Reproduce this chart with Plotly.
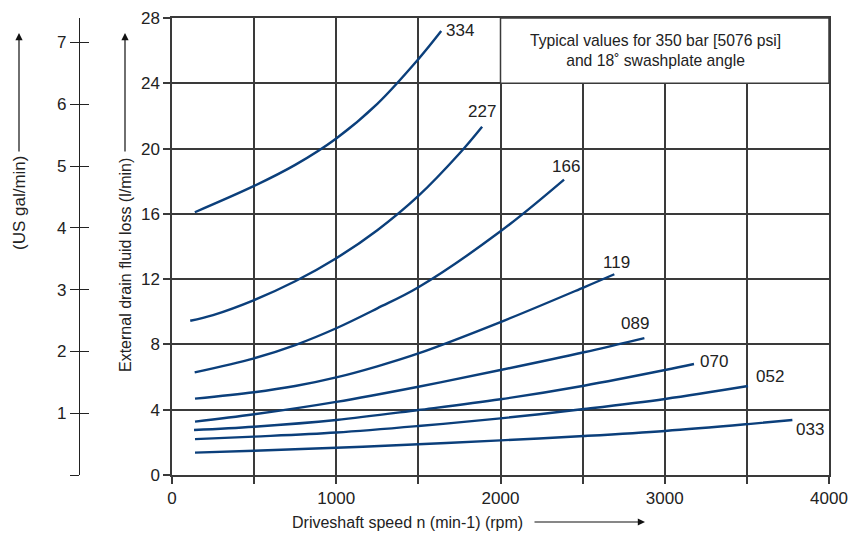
import plotly.graph_objects as go

# ---------------- data ----------------
series_names = ["334", "227", "166", "119", "089", "070", "052", "033"]

rpm_334 = [139, 500, 750, 1000, 1250, 1500, 1639]
val_334 = [16.1, 17.71, 19.0, 20.62, 22.74, 25.48, 27.2]

rpm_227 = [111, 250, 500, 750, 1000, 1250, 1500, 1750, 1888]
val_227 = [9.45, 9.8, 10.72, 11.87, 13.28, 15.0, 17.1, 19.7, 21.34]

rpm_166 = [138, 500, 750, 1000, 1250, 1500, 2000, 2387]
val_166 = [6.29, 7.15, 7.96, 8.99, 10.21, 11.5, 14.93, 18.1]

rpm_119 = [140, 500, 750, 1000, 1250, 1500, 2000, 2508, 2693]
val_119 = [4.68, 5.07, 5.45, 5.98, 6.66, 7.45, 9.37, 11.5, 12.3]

rpm_089 = [140, 500, 1000, 1500, 2000, 2508, 2876]
val_089 = [3.27, 3.72, 4.48, 5.41, 6.43, 7.52, 8.39]

rpm_070 = [134, 500, 1000, 1500, 2000, 2508, 3002, 3178]
val_070 = [2.76, 2.96, 3.37, 3.98, 4.64, 5.47, 6.43, 6.8]

rpm_052 = [140, 500, 1000, 1500, 2000, 2508, 3002, 3507]
val_052 = [2.2, 2.35, 2.6, 3.0, 3.47, 4.04, 4.66, 5.45]

rpm_033 = [140, 500, 1000, 1500, 2000, 2508, 3002, 3507, 3777]
val_033 = [1.37, 1.49, 1.67, 1.88, 2.12, 2.39, 2.7, 3.12, 3.37]

x_tickvals = [0, 500, 1000, 1500, 2000, 2500, 3000, 3500, 4000]
x_ticktext = ["0", "", "1000", "", "2000", "", "3000", "", "4000"]
y_tickvals = [0, 4, 8, 12, 16, 20, 24, 28]
gal_tickvals = [0, 1, 2, 3, 4, 5, 6, 7]
gal_ticktext = ["", "1", "2", "3", "4", "5", "6", "7"]
L_PER_GAL = 3.785411784

note_text = "Typical values for 350 bar [5076 psi]<br>and 18˚ swashplate angle"
x_title = "Driveshaft speed n (min-1) (rpm)"
y_title = "External drain fluid loss (l/min)"
gal_title = "(US gal/min)"

# label offsets (pixels) relative to curve end  (style)
label_offsets = {
    "334": (19, 1), "227": (0, 15), "166": (2, 13), "119": (2, 12),
    "089": (-9, 15), "070": (20, 3), "052": (22, 10), "033": (18, -9),
}

series = {
    "334": (rpm_334, val_334), "227": (rpm_227, val_227),
    "166": (rpm_166, val_166), "119": (rpm_119, val_119),
    "089": (rpm_089, val_089), "070": (rpm_070, val_070),
    "052": (rpm_052, val_052), "033": (rpm_033, val_033),
}

# ---------------- figure ----------------
FONT = "Liberation Sans, Arial, sans-serif"
LINE_COLOR = "#0b3f7b"
GRID = "#3a3a3a"
TXT = "#222222"
TICK_SIZE = 17
TITLE_SIZE = 16

fig = go.Figure()
annotations = []
for name in series_names:
    xs, ys = series[name]
    fig.add_trace(go.Scatter(x=xs, y=ys, mode="lines",
                             line=dict(color=LINE_COLOR, width=2.4, shape="spline", smoothing=1.0),
                             showlegend=False, hoverinfo="skip"))
    dx, dy = label_offsets[name]
    annotations.append(dict(x=xs[-1], y=ys[-1], xref="x", yref="y", text=name,
                            showarrow=False, xanchor="center", yanchor="middle",
                            xshift=dx, yshift=dy,
                            font=dict(family=FONT, size=TICK_SIZE, color=TXT)))

# dummy traces so the gallon axes are created
fig.add_trace(go.Scatter(x=[None], y=[None], yaxis="y2", showlegend=False, hoverinfo="skip"))
fig.add_trace(go.Scatter(x=[None], y=[None], yaxis="y3", showlegend=False, hoverinfo="skip"))

ML, MR, MT, MB = 60, 21, 18, 59
W, H = 850, 534
PW = W - ML - MR
PH = H - MT - MB

def px2paper_x(px):
    return (px - ML) / PW

def px2paper_y(py):
    return (H - MB - py) / PH

# note box
fig.add_shape(type="rect", xref="x", yref="y", x0=2000, x1=4000, y0=24, y1=28,
              fillcolor="white", line=dict(color=GRID, width=1.5), layer="above")
annotations.append(dict(x=3000, y=26, xref="x", yref="y", text=note_text, showarrow=False,
                        xshift=-9,
                        font=dict(family=FONT, size=15.7, color=TXT), align="center"))

# axis titles with arrows
annotations.append(dict(x=px2paper_x(407), y=px2paper_y(522), xref="paper", yref="paper",
                        text=x_title, showarrow=False, xanchor="center", yanchor="middle",
                        font=dict(family=FONT, size=TITLE_SIZE, color=TXT)))
annotations.append(dict(x=px2paper_x(645), y=px2paper_y(522), xref="paper", yref="paper",
                        ax=-112, ay=0, text="", showarrow=True, arrowhead=2, arrowsize=1.2,
                        arrowwidth=1.2, arrowcolor="#111"))
annotations.append(dict(x=px2paper_x(125), y=px2paper_y(265), xref="paper", yref="paper",
                        text=y_title, textangle=-90, showarrow=False, xanchor="center", yanchor="middle",
                        font=dict(family=FONT, size=TITLE_SIZE, color=TXT)))
annotations.append(dict(x=px2paper_x(125), y=px2paper_y(33), xref="paper", yref="paper",
                        ax=0, ay=120, text="", showarrow=True, arrowhead=2, arrowsize=1.2,
                        arrowwidth=1.2, arrowcolor="#111"))
annotations.append(dict(x=px2paper_x(19), y=px2paper_y(203), xref="paper", yref="paper",
                        text=gal_title, textangle=-90, showarrow=False, xanchor="center", yanchor="middle",
                        font=dict(family=FONT, size=17, color=TXT)))
annotations.append(dict(x=px2paper_x(19), y=px2paper_y(33), xref="paper", yref="paper",
                        ax=0, ay=120, text="", showarrow=True, arrowhead=2, arrowsize=1.2,
                        arrowwidth=1.2, arrowcolor="#111"))

gal_max = 28 / L_PER_GAL
gal_axis_common = dict(overlaying="y", anchor="free", position=px2paper_x(79), side="left",
                       range=[0, gal_max], tickvals=gal_tickvals, ticklen=9, tickwidth=1.3,
                       tickcolor="#222", showline=True, linecolor="#222", linewidth=1.3,
                       showgrid=False, zeroline=False, automargin=False)

fig.update_layout(
    width=W, height=H,
    margin=dict(l=ML, r=MR, t=MT, b=MB, autoexpand=False),
    paper_bgcolor="white", plot_bgcolor="white",
    font=dict(family=FONT, color=TXT, size=TICK_SIZE),
    xaxis=dict(domain=[px2paper_x(172), 1], range=[0, 4000], tickvals=x_tickvals, ticktext=x_ticktext,
               ticks="outside", ticklen=7, tickwidth=1.5, tickcolor=GRID,
               showgrid=True, gridcolor=GRID, gridwidth=1.5, automargin=False,
               showline=True, linecolor=GRID, linewidth=1.5, mirror=True, zeroline=False,
               tickfont=dict(size=TICK_SIZE, family=FONT, color=TXT)),
    yaxis=dict(range=[0, 28], tickvals=y_tickvals,
               ticks="outside", ticklen=7, tickwidth=1.5, tickcolor=GRID,
               showgrid=True, gridcolor=GRID, gridwidth=1.5, automargin=False,
               showline=True, linecolor=GRID, linewidth=1.5, mirror=True, zeroline=False,
               tickfont=dict(size=TICK_SIZE, family=FONT, color=TXT)),
    yaxis2=dict(ticks="outside", ticktext=gal_ticktext, tickmode="array",
                tickfont=dict(size=TICK_SIZE, family=FONT, color=TXT), **gal_axis_common),
    yaxis3=dict(ticks="inside", showticklabels=False, **gal_axis_common),
    annotations=annotations,
)

fig.write_html(
    "out.html",
    config={"displayModeBar": False},
    post_script=("document.body.style.margin='0px';"
                 "document.body.style.overflow='hidden';"
                 "document.documentElement.style.overflow='hidden';"),
)
